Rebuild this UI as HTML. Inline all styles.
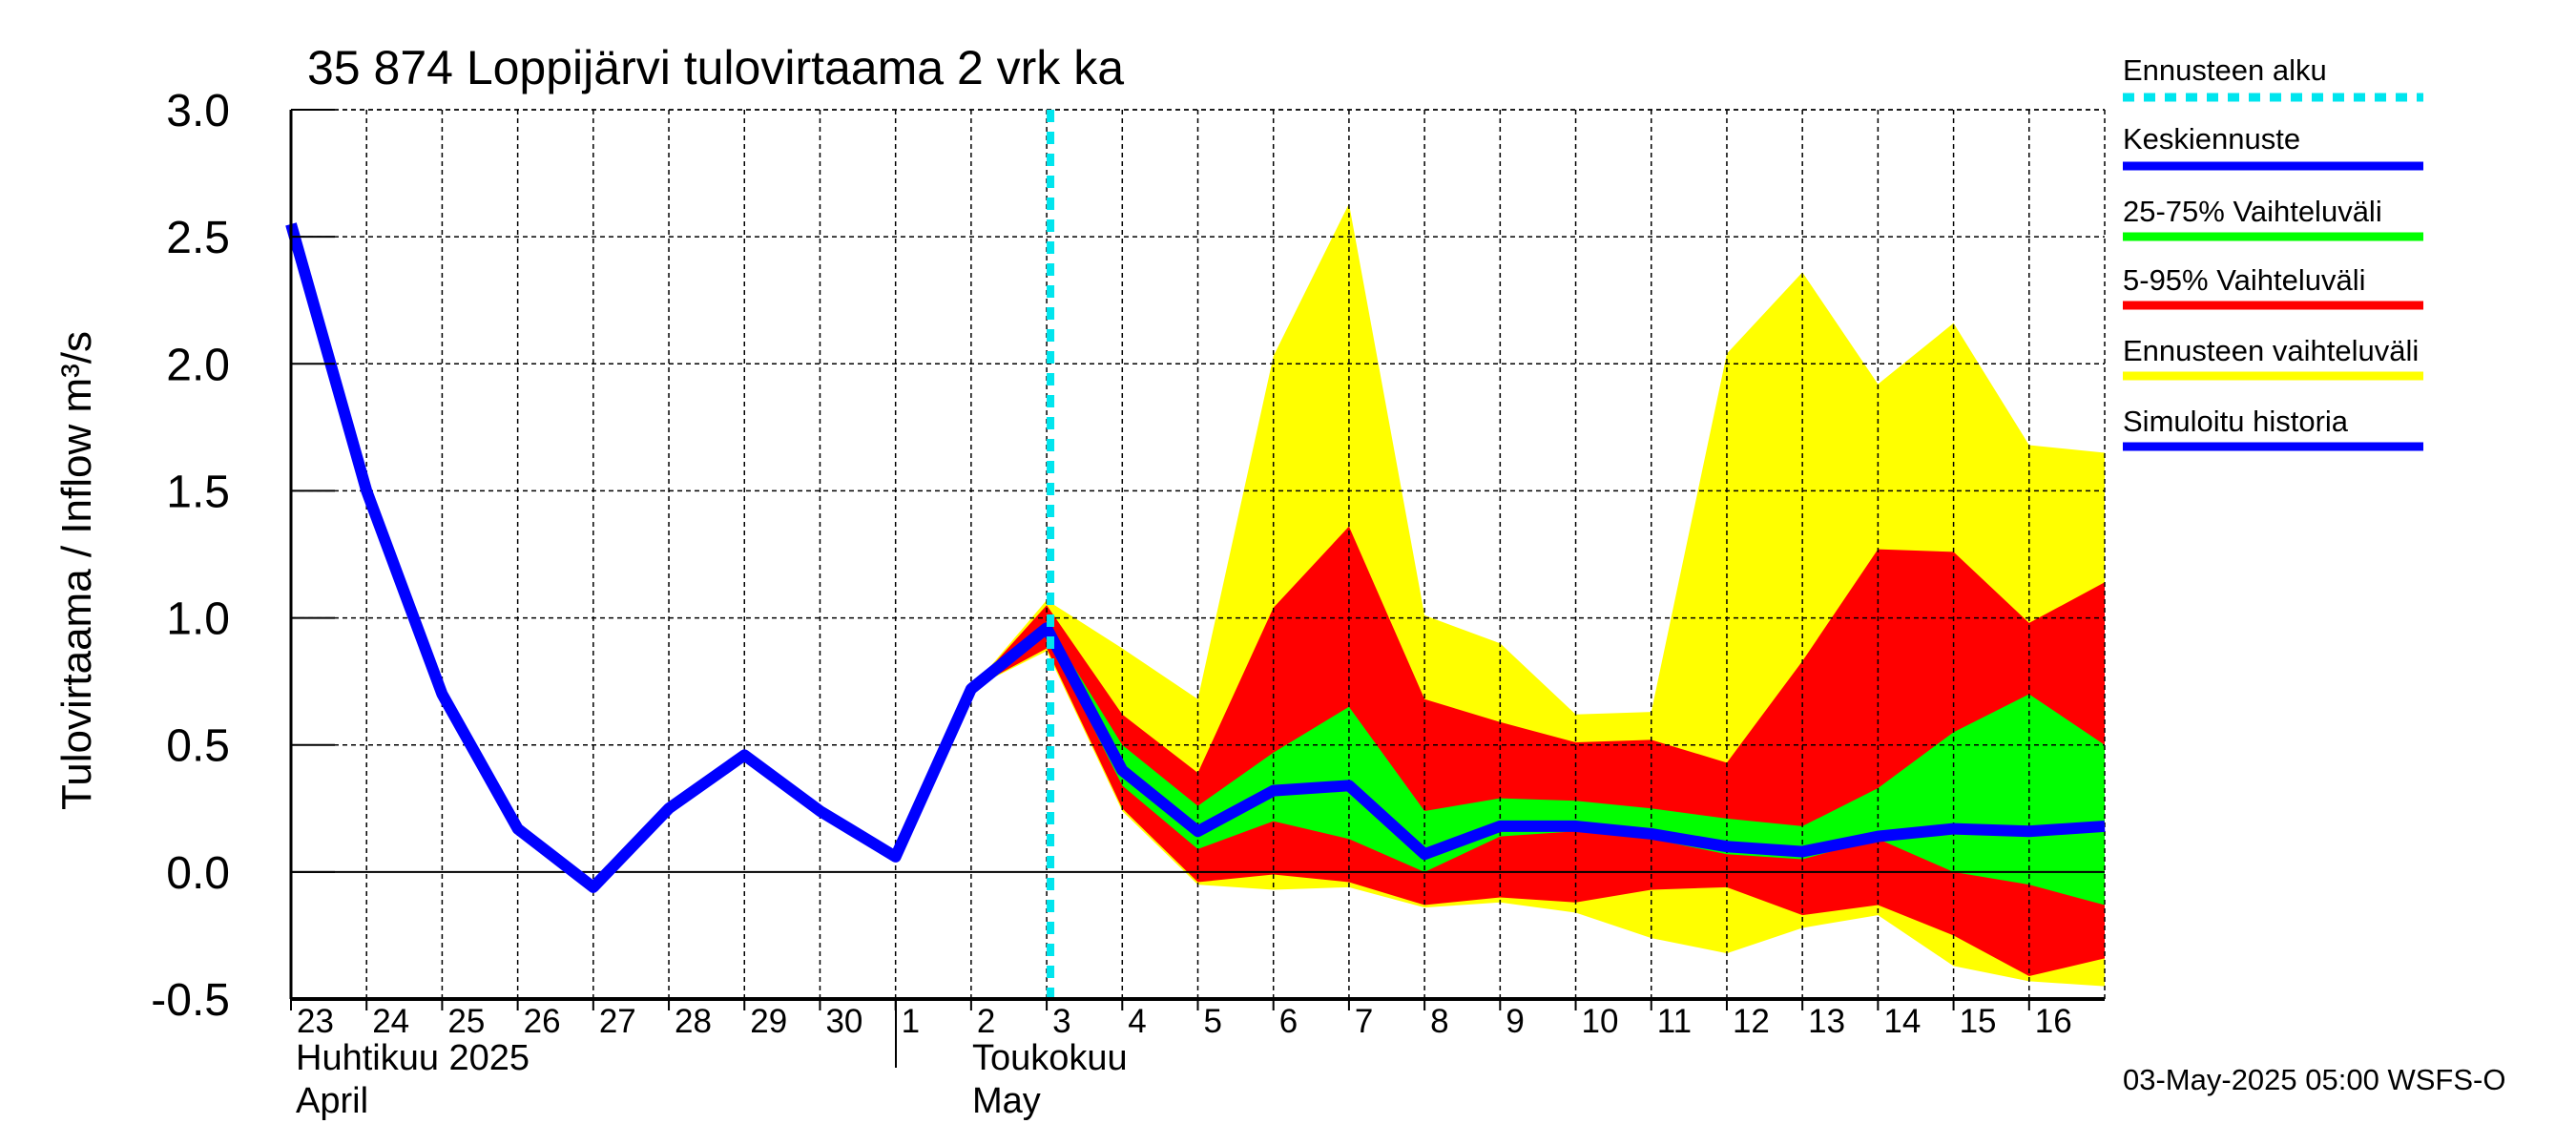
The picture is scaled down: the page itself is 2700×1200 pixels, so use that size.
<!DOCTYPE html>
<html><head><meta charset="utf-8"><style>
html,body{margin:0;padding:0;background:#fff;}
svg{display:block;font-family:"Liberation Sans",sans-serif;}
</style></head><body>
<svg id="chart" width="2700" height="1200" viewBox="0 0 2700 1200" xmlns="http://www.w3.org/2000/svg">
<rect width="2700" height="1200" fill="#fff"/>
<text x="322" y="88" font-size="50">35 874 Loppijärvi tulovirtaama 2 vrk ka</text>
<g id="bands"></g>
<g id="grid"></g>
<g id="lines"></g>
<g id="axes"></g>
<text transform="translate(95,598) rotate(-90)" text-anchor="middle" font-size="44">Tulovirtaama / Inflow    m³/s</text>
<text x="310" y="1121" font-size="38">Huhtikuu  2025</text>
<text x="310" y="1166" font-size="38">April</text>
<text x="1019" y="1121" font-size="38">Toukokuu</text>
<text x="1019" y="1166" font-size="38">May</text>
<line x1="939" y1="1047" x2="939" y2="1119" stroke="#000" stroke-width="2"/>
<g>
<text x="2225" y="84" font-size="31">Ennusteen alku</text>
<line x1="2225" y1="102" x2="2540" y2="102" stroke="#00e5ee" stroke-width="9" stroke-dasharray="12,10"/>
<text x="2225" y="156" font-size="31">Keskiennuste</text>
<line x1="2225" y1="174" x2="2540" y2="174" stroke="#0000ff" stroke-width="9"/>
<text x="2225" y="232" font-size="31">25-75% Vaihteluväli</text>
<line x1="2225" y1="248" x2="2540" y2="248" stroke="#00ff00" stroke-width="9"/>
<text x="2225" y="304" font-size="31">5-95% Vaihteluväli</text>
<line x1="2225" y1="320" x2="2540" y2="320" stroke="#ff0000" stroke-width="9"/>
<text x="2225" y="378" font-size="31">Ennusteen vaihteluväli</text>
<line x1="2225" y1="394" x2="2540" y2="394" stroke="#ffff00" stroke-width="9"/>
<text x="2225" y="452" font-size="31">Simuloitu historia</text>
<line x1="2225" y1="468" x2="2540" y2="468" stroke="#0000ff" stroke-width="9"/>
</g>
<text x="2225" y="1142" font-size="31">03-May-2025 05:00 WSFS-O</text>
</svg>
<script>
const dayLabels = ["23","24","25","26","27","28","29","30","1","2","3","4","5","6","7","8","9","10","11","12","13","14","15","16"];
const yTicks = [-0.5,0,0.5,1,1.5,2,2.5,3];
const yTickLabels = ["-0.5","0.0","0.5","1.0","1.5","2.0","2.5","3.0"];
const histDays = [0,1,2,3,4,5,6,7,8,9,10];
const histValues = [2.55,1.5,0.7,0.17,-0.06,0.25,0.46,0.24,0.06,0.72,0.96];
const fcDays = [9,10,11,12,13,14,15,16,17,18,19,20,21,22,23,24];
const fcMedian = [0.72,0.96,0.4,0.16,0.32,0.34,0.07,0.18,0.18,0.15,0.10,0.08,0.14,0.17,0.16,0.18];
const fcMax = [0.72,1.07,0.88,0.68,2.03,2.63,1.01,0.9,0.62,0.63,2.04,2.36,1.92,2.16,1.68,1.65];
const fcMin = [0.72,0.87,0.24,-0.05,-0.07,-0.06,-0.14,-0.12,-0.16,-0.26,-0.32,-0.22,-0.17,-0.37,-0.43,-0.45];
const fcP95 = [0.72,1.05,0.62,0.39,1.04,1.36,0.68,0.59,0.51,0.52,0.43,0.83,1.27,1.26,0.98,1.14];
const fcP5 = [0.72,0.88,0.25,-0.04,-0.01,-0.04,-0.13,-0.1,-0.12,-0.07,-0.06,-0.17,-0.13,-0.25,-0.41,-0.34];
const fcP75 = [0.72,0.98,0.5,0.26,0.47,0.65,0.24,0.29,0.28,0.25,0.21,0.18,0.33,0.55,0.70,0.5];
const fcP25 = [0.72,0.93,0.34,0.09,0.2,0.13,0.0,0.14,0.16,0.13,0.07,0.05,0.13,0.0,-0.05,-0.13];
const forecastStartDay = 10.05;

const NS="http://www.w3.org/2000/svg";
const L=305,R=2206,T=115,B=1047,yMin=-0.5,yMax=3,nDays=24;
function xs(d){return L+(R-L)*d/nDays;}
function ys(v){return B-(B-T)*(v-yMin)/(yMax-yMin);}
function mk(tag,attrs,parent){const e=document.createElementNS(NS,tag);for(const k in attrs)e.setAttribute(k,attrs[k]);parent.appendChild(e);return e;}
const bands=document.getElementById('bands'),grid=document.getElementById('grid'),lines=document.getElementById('lines'),axes=document.getElementById('axes');
function band(lo,hi,color,name){
  let pts=fcDays.map((d,i)=>xs(d)+','+ys(hi[i]));
  for(let i=fcDays.length-1;i>=0;i--)pts.push(xs(fcDays[i])+','+ys(lo[i]));
  const p=mk('polygon',{points:pts.join(' '),fill:color},bands);
  
  
}
band(fcMin,fcMax,'#ffff00','band-full-range');
band(fcP5,fcP95,'#ff0000','band-5-95');
band(fcP25,fcP75,'#00ff00','band-25-75');
for(let d=1;d<nDays;d++){
  const g=mk('line',{x1:xs(d),y1:T,x2:xs(d),y2:B,stroke:'#000','stroke-width':1.5,'stroke-dasharray':'5,4'},grid);
  
  
}
yTicks.forEach((v,i)=>{
  if(v!==0&&v!==yMin){
    const g=mk('line',{x1:L,y1:ys(v),x2:R,y2:ys(v),stroke:'#000','stroke-width':1.5,'stroke-dasharray':'5,4'},grid);
    
    
  }
  const tk=mk('line',{x1:L,y1:ys(v),x2:L+46,y2:ys(v),stroke:'#000','stroke-width':2},axes);
  
  
  const t=mk('text',{x:241,y:ys(v)+17,'text-anchor':'end','font-size':48},axes);
  t.textContent=yTickLabels[i];
  
  
});
const zl=mk('line',{x1:L,y1:ys(0),x2:R,y2:ys(0),stroke:'#000','stroke-width':2},grid);


const tb=mk('line',{x1:L,y1:T,x2:R,y2:T,stroke:'#000','stroke-width':1.5,'stroke-dasharray':'5,4'},grid);


const rb=mk('line',{x1:R,y1:T,x2:R,y2:B,stroke:'#000','stroke-width':1.5,'stroke-dasharray':'5,4'},grid);


dayLabels.forEach((lab,i)=>{
  const t=mk('text',{x:xs(i)+6,y:1082,'font-size':35},axes);
  t.textContent=lab;
  
  
  const tk=mk('line',{x1:xs(i),y1:B,x2:xs(i),y2:B+12,stroke:'#000','stroke-width':2},axes);
  
  
});
const hl=mk('polyline',{points:fcDays.map((d,i)=>xs(d)+','+ys(fcMedian[i])).join(' '),fill:'none',stroke:'#0000ff','stroke-width':12,'stroke-linejoin':'round'},lines);


const sl=mk('polyline',{points:histDays.map((d,i)=>xs(d)+','+ys(histValues[i])).join(' '),fill:'none',stroke:'#0000ff','stroke-width':12,'stroke-linejoin':'round'},lines);


const fl=mk('line',{x1:xs(forecastStartDay),y1:T,x2:xs(forecastStartDay),y2:B,stroke:'#00e5ee','stroke-width':8,'stroke-dasharray':'13,10'},lines);


const la=mk('line',{x1:L,y1:T,x2:L,y2:B,stroke:'#000','stroke-width':3},axes);


const ba=mk('line',{x1:L,y1:B,x2:R,y2:B,stroke:'#000','stroke-width':4},axes);


</script>
</body></html>
